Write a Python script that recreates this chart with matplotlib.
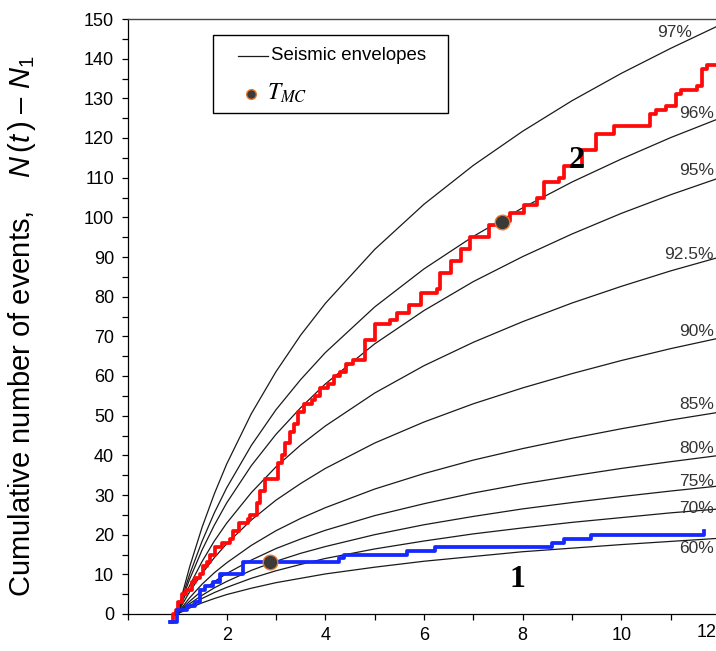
import matplotlib
matplotlib.use("Agg")
import matplotlib.pyplot as plt
from matplotlib.lines import Line2D
from matplotlib.patches import Rectangle
from matplotlib.ticker import MultipleLocator, FuncFormatter

plt.rcParams['font.family'] = ['Liberation Sans', 'DejaVu Sans']
plt.rcParams['mathtext.fontset'] = 'custom'
plt.rcParams['mathtext.rm'] = 'Liberation Sans'
plt.rcParams['mathtext.it'] = 'Liberation Sans:italic'

# --- envelope curves, shared time grid ---
env_t = [1, 1.1, 1.25, 1.5, 1.75, 2, 2.5, 3, 3.5, 4, 5, 6, 7, 8, 9, 10, 11, 12]
env_97 = [0, 5.0, 11.9, 21.8, 30.3, 37.8, 50.5, 61.1, 70.3, 78.3, 91.9, 103.3, 113.1, 121.7, 129.4, 136.3, 142.6, 148.5]
env_96 = [0, 4.3, 10.0, 18.3, 25.5, 31.8, 42.5, 51.5, 59.1, 65.9, 77.4, 87.0, 95.2, 102.4, 108.9, 114.7, 120.1, 125.0]
env_95 = [0, 3.7, 8.8, 16.1, 22.4, 28.0, 37.4, 45.3, 52.0, 58.0, 68.1, 76.5, 83.8, 90.1, 95.8, 101.0, 105.7, 110.0]
env_925 = [0, 3.1, 7.2, 13.2, 18.4, 22.9, 30.6, 37.1, 42.6, 47.4, 55.7, 62.6, 68.5, 73.7, 78.4, 82.6, 86.5, 90.0]
env_90 = [0, 2.4, 5.6, 10.2, 14.2, 17.7, 23.7, 28.7, 32.9, 36.7, 43.1, 48.4, 53.0, 57.0, 60.6, 63.9, 66.9, 69.6]
env_85 = [0, 1.7, 4.1, 7.5, 10.4, 12.9, 17.3, 21.0, 24.1, 26.8, 31.5, 35.4, 38.8, 41.7, 44.3, 46.7, 48.9, 50.9]
env_80 = [0, 1.4, 3.2, 5.9, 8.2, 10.2, 13.6, 16.5, 18.9, 21.1, 24.8, 27.8, 30.5, 32.8, 34.8, 36.7, 38.4, 40.0]
env_75 = [0, 1.1, 2.6, 4.7, 6.6, 8.2, 11.0, 13.3, 15.3, 17.0, 20.0, 22.5, 24.6, 26.5, 28.1, 29.6, 31.0, 32.3]
env_70 = [0, 0.9, 2.1, 3.9, 5.4, 6.7, 9.0, 10.9, 12.5, 14.0, 16.4, 18.4, 20.2, 21.7, 23.1, 24.3, 25.5, 26.5]
env_60 = [0, 0.6, 1.5, 2.8, 3.9, 4.9, 6.5, 7.9, 9.0, 10.1, 11.8, 13.3, 14.5, 15.7, 16.6, 17.5, 18.3, 19.1]
env_labels = ['97%', '96%', '95%', '92.5%', '90%', '85%', '80%', '75%', '70%', '60%']

# --- observed cumulative counts ---
red_t = [0.88, 0.92, 0.98, 1.02, 1.10, 1.18, 1.29, 1.35, 1.45, 1.53, 1.60, 1.67, 1.77, 1.90,
         2.07, 2.13, 2.24, 2.44, 2.48, 2.61, 2.68, 2.78, 3.05, 3.12, 3.19, 3.28, 3.36, 3.44,
         3.56, 3.73, 3.80, 3.90, 4.05, 4.17, 4.30, 4.41, 4.57, 4.81, 5.01, 5.32, 5.45, 5.69,
         5.93, 6.27, 6.33, 6.54, 6.74, 6.94, 7.31, 7.55, 7.75, 8.02, 8.29, 8.43, 8.74, 8.83,
         9.20, 9.48, 9.85, 10.59, 10.70, 10.90, 11.10, 11.20, 11.54, 11.64, 11.74, 11.95]
red_n = [-2, 0, 1, 3, 5, 6, 8, 9, 10, 12, 13, 15, 17, 18,
         19, 21, 23, 24, 25, 28, 31, 34, 38, 40, 43, 46, 48, 51,
         53, 54, 55, 57, 58, 60, 61, 63, 64, 69, 73, 74, 76, 78,
         81, 82, 86, 89, 92, 95, 98, 99, 101, 103, 105, 109, 110, 113,
         117, 121, 123, 126, 127, 128, 131, 132, 133, 137.5, 138.5, 139]

blue_t = [0.86, 1.00, 1.19, 1.36, 1.46, 1.57, 1.73, 1.87, 2.34, 4.27, 4.37, 5.66, 6.23,
          8.60, 8.83, 9.38, 11.67, 11.67]
blue_n = [-2, 1, 2, 3, 6, 7, 8, 10, 13, 14, 15, 16, 17, 18, 19, 20, 20, 21]

# T_MC points
tmc_t = [2.87, 7.58]
tmc_n = [13.1, 98.9]

# label anchors (right end of each envelope)
lab_x = [11.43, 11.88, 11.88, 11.88, 11.88, 11.88, 11.88, 11.88, 11.88, 11.88]
lab_y = [146.5, 126.3, 111.9, 90.7, 71.1, 52.9, 41.8, 33.3, 26.7, 16.6]

envs = [env_97, env_96, env_95, env_925, env_90, env_85, env_80, env_75, env_70, env_60]

W, H = 716, 651
fig = plt.figure(figsize=(W / 100, H / 100), dpi=100)
ax = fig.add_axes([128 / W, 37 / H, 592 / W, 595 / H])

for e in envs:
    ax.plot(env_t, e, color='#1a1a1a', lw=0.9, zorder=2)

for lx, ly, lab in zip(lab_x, lab_y, env_labels):
    ax.text(lx, ly, lab, ha='right', va='center', fontsize=12.5, color='#333333', zorder=3)

ax.plot(red_t, red_n, drawstyle='steps-post', color='#ff0a0a', lw=2.7, zorder=4, clip_on=False)
ax.plot(blue_t, blue_n, drawstyle='steps-post', color='#1428ff', lw=2.7, zorder=4, clip_on=False)
ax.plot(tmc_t, tmc_n, 'o', ms=10.5, mfc='#3a3a3a', mec='#e8782a', mew=1.0, zorder=5, clip_on=False)

ax.text(9.1, 114.4, '2', fontsize=23, fontweight='bold', family='Liberation Serif',
        ha='center', va='center', zorder=6)
ax.text(7.9, 8.6, '1', fontsize=23, fontweight='bold', family='Liberation Serif',
        ha='center', va='center', zorder=6)

ax.set_xlim(0, 12)
ax.set_ylim(0, 150)
ax.xaxis.set_major_locator(MultipleLocator(2))
ax.xaxis.set_minor_locator(MultipleLocator(1))
ax.yaxis.set_major_locator(MultipleLocator(10))
ax.yaxis.set_minor_locator(MultipleLocator(5))
ax.xaxis.set_major_formatter(FuncFormatter(lambda v, p: '' if v in (0, 12) else '%d' % v))
ax.tick_params(which='both', direction='out', length=4, width=0.9, colors='black')
ax.tick_params(axis='x', which='major', labelsize=13, pad=5)
ax.tick_params(axis='y', which='major', labelsize=13, pad=6)
# last x label sits at the right edge of the figure, so pull it inside
ax.annotate('12', xy=(12, 0), xycoords='data', xytext=(-2.5, -7.4), textcoords='offset points',
            ha='right', va='top', fontsize=13, annotation_clip=False)

ax.spines['right'].set_visible(False)
for s in ['left', 'bottom']:
    ax.spines[s].set_linewidth(0.9)
ax.spines['top'].set_linewidth(1.0)
ax.spines['top'].set_color('#444444')

ax.set_ylabel('Cumulative number of events,    $N\\,(t\\,)$ \u2013 $N_1$', fontsize=21)
ax.yaxis.set_label_coords(-0.152, 0.483)

# legend box drawn by hand (figure pixel layout)
fig.patches.append(Rectangle((213 / W, 1 - 113 / H), 235 / W, 78 / H, transform=fig.transFigure,
                             facecolor='white', edgecolor='black', lw=1.0, zorder=10))
fig.lines.append(Line2D([238 / W, 268 / W], [1 - 55.7 / H] * 2, transform=fig.transFigure,
                        color='#1a1a1a', lw=0.9, zorder=11))
fig.text(271 / W, 1 - 55.7 / H, 'Seismic envelopes', fontsize=13.4, ha='left', va='center', zorder=11)
fig.lines.append(Line2D([250.7 / W], [1 - 94 / H], transform=fig.transFigure, ls='none',
                        marker='o', ms=7, mfc='#3a3a3a', mec='#e8782a', mew=1.0, zorder=11))
t_mc = fig.text(267 / W, 1 - 93 / H, '$T_{MC}$', fontsize=17, ha='left', va='center', zorder=11)
t_mc.set_math_fontfamily('stix')

fig.savefig('out.png', dpi=100)
